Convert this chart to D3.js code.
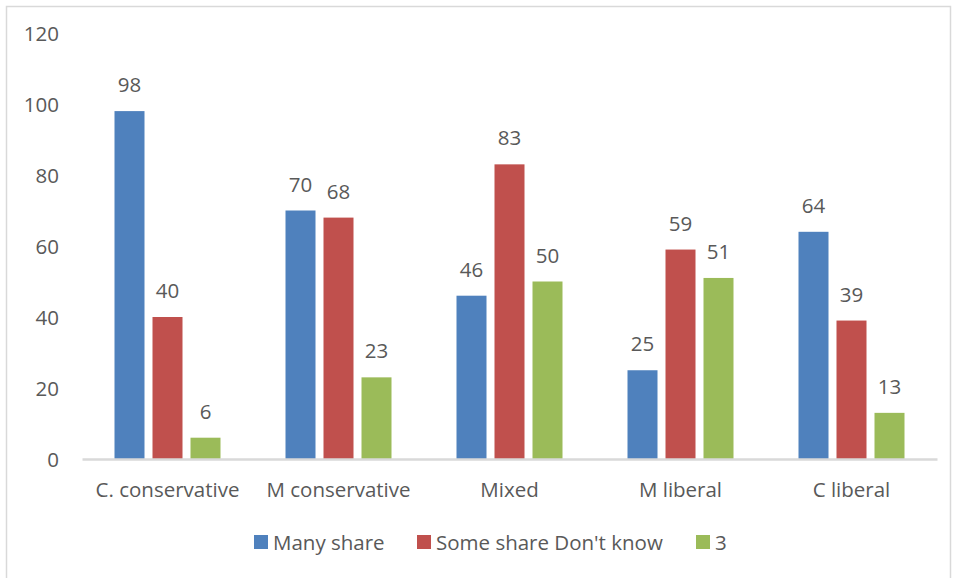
<!DOCTYPE html>
<html><head><meta charset="utf-8">
<script src="https://cdn.jsdelivr.net/npm/d3@7"></script>
<style>body{margin:0;background:#fff}svg text{font-family:"Open Sans",Lato,sans-serif;fill:#595959}</style>
</head><body>
<svg id="c" width="956" height="578"></svg>
<script>
const categories = ["C. conservative","M conservative","Mixed","M liberal","C liberal"];
const seriesNames = ["Many share","Some share Don't know","3"];
const manyShare = [98,70,46,25,64];
const someShare = [40,68,83,59,39];
const three = [6,23,50,51,13];
const yTicks = [0,20,40,60,80,100,120];
const colors = ["#4F81BD","#C0504D","#9BBB59"];
const series = [manyShare, someShare, three];
const FS = 20.5;

const svg = d3.select("#c");
svg.append("rect").attr("x",6.5).attr("y",6.5).attr("width",944).attr("height",575)
  .attr("fill","#fff").attr("stroke","#d9d9d9").attr("stroke-width",1.5);

const x0 = d3.scaleBand().domain(categories).range([82,937]).paddingInner(0).paddingOuter(0);
const x1 = d3.scaleBand().domain(d3.range(3)).range([32.5, x0.bandwidth()-32.5]).paddingInner(8/38);
const y = d3.scaleLinear().domain([0,120]).range([459,33]);

const yAx = svg.append("g").attr("transform","translate(59,0)")
  .call(d3.axisLeft(y).tickValues(yTicks).tickSize(0).tickPadding(0));
yAx.select(".domain").remove();
yAx.selectAll("text").attr("font-size",FS).attr("font-family","\"Open Sans\",Lato,sans-serif").attr("fill","#595959").attr("dy","0.35em");

const g = svg.append("g");
series.forEach((vals,si)=>{
  g.selectAll(".b"+si).data(vals).enter().append("rect")
    .attr("x",(d,i)=>x0(categories[i])+x1(si))
    .attr("y",d=>y(d)).attr("width",x1.bandwidth()).attr("height",d=>y(0)-y(d))
    .attr("fill",colors[si]);
  g.selectAll(".l"+si).data(vals).enter().append("text")
    .attr("x",(d,i)=>x0(categories[i])+x1(si)+x1.bandwidth()/2)
    .attr("y",d=>y(d)-19).attr("text-anchor","middle").attr("font-size",FS).text(d=>d);
});

const xAx = svg.append("g").attr("transform","translate(0,459)")
  .call(d3.axisBottom(x0).tickSize(0).tickPadding(0));
xAx.select(".domain").attr("stroke","#d9d9d9").attr("stroke-width",2.5);
xAx.selectAll("text").attr("font-size",FS).attr("font-family","\"Open Sans\",Lato,sans-serif").attr("fill","#595959").attr("y",38).attr("dy",0);

const legendX = [254,417,696];
const lg = svg.append("g");
seriesNames.forEach((n,i)=>{
  lg.append("rect").attr("x",legendX[i]).attr("y",535).attr("width",14).attr("height",14).attr("fill",colors[i]);
  lg.append("text").attr("x",legendX[i]+19).attr("y",550).attr("font-size",FS).text(n);
});
</script>
</body></html>
